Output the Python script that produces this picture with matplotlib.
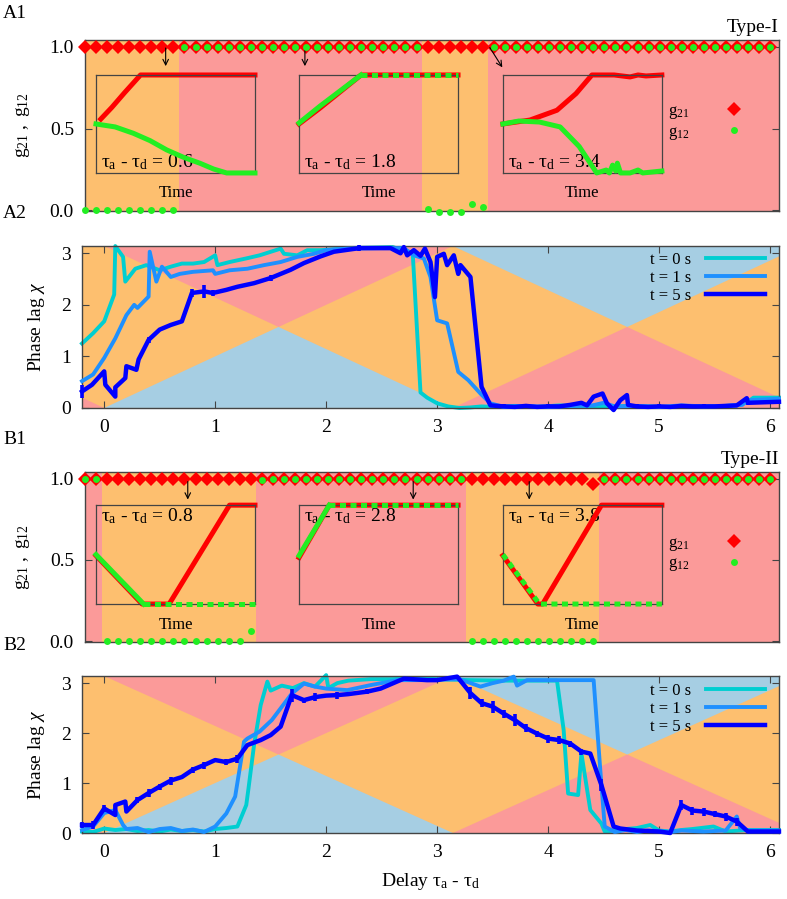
# Synchronisation type-I / type-II : couplages g21, g12 et retard de phase chi

import matplotlib
matplotlib.use("Agg")
import matplotlib.pyplot as plt
from numpy import pi

plt.rcParams["font.family"] = ["Liberation Serif", "DejaVu Serif"]
plt.rcParams["mathtext.fontset"] = "custom"
plt.rcParams["mathtext.rm"] = "Liberation Serif"
plt.rcParams["mathtext.it"] = "Liberation Serif:italic"
plt.rcParams["mathtext.bf"] = "Liberation Serif:bold"

# Couleurs
ORANGE = "#FDBF6F"
PINK   = "#FB9A99"
BLUE_BG = "#A6CEE3"
RED    = "#FF0000"
GREEN  = "#22EE22"
C_T0   = "#00CED1"
C_T1   = "#1E90FF"
C_T5   = "#0000FF"
EDGE   = "#444444"

# Grille des retards tau_a - tau_d (panneaux A1, B1)
DELAY = [-0.2, -0.1, 0.0, 0.1, 0.2, 0.3, 0.4, 0.5, 0.6, 0.7,
         0.8, 0.9, 1.0, 1.1, 1.2, 1.3, 1.4, 1.5, 1.6, 1.7,
         1.8, 1.9, 2.0, 2.1, 2.2, 2.3, 2.4, 2.5, 2.6, 2.7,
         2.8, 2.9, 3.0, 3.1, 3.2, 3.3, 3.4, 3.5, 3.6, 3.7,
         3.8, 3.9, 4.0, 4.1, 4.2, 4.3, 4.4, 4.5, 4.6, 4.7,
         4.8, 4.9, 5.0, 5.1, 5.2, 5.3, 5.4, 5.5, 5.6, 5.7,
         5.8, 5.9, 6.0]

# Type-I : poids finaux
G21_I = [1, 1, 1, 1, 1, 1, 1, 1, 1, 1,
         1, 1, 1, 1, 1, 1, 1, 1, 1, 1,
         1, 1, 1, 1, 1, 1, 1, 1, 1, 1,
         1, 1, 1, 1, 1, 1, 1, 1, 1, 1,
         1, 1, 1, 1, 1, 1, 1, 1, 1, 1,
         1, 1, 1, 1, 1, 1, 1, 1, 1, 1,
         1, 1, 1]
G12_I = [0, 0, 0, 0, 0, 0, 0, 0, 0, 1,
         1, 1, 1, 1, 1, 1, 1, 1, 1, 1,
         1, 1, 1, 1, 1, 1, 1, 1, 1, 1,
         1, 0.01, -0.01, -0.01, -0.01, 0.04, 0.02, 1, 1, 1,
         1, 1, 1, 1, 1, 1, 1, 1, 1, 1,
         1, 1, 1, 1, 1, 1, 1, 1, 1, 1,
         1, 1, 1]

# Type-II : poids finaux
G21_II = [1, 1, 1, 1, 1, 1, 1, 1, 1, 1,
          1, 1, 1, 1, 1, 1, 1, 1, 1, 1,
          1, 1, 1, 1, 1, 1, 1, 1, 1, 1,
          1, 1, 1, 1, 1, 1, 1, 1, 1, 1,
          1, 1, 1, 1, 1, 1, 0.97, 1, 1, 1,
          1, 1, 1, 1, 1, 1, 1, 1, 1, 1,
          1, 1, 1]
G12_II = [1, 1, 0, 0, 0, 0, 0, 0, 0, 0,
          0, 0, 0, 0, 0, 0.06, 0.99, 1, 1, 1,
          1, 1, 1, 1, 1, 1, 1, 1, 1, 1,
          1, 1, 1, 1, 1, 0, 0, 0, 0, 0,
          0, 0, 0, 0, 0, 0, 0, 1, 1, 1,
          1, 1, 1, 1, 1, 1, 1, 1, 1, 1,
          1, 1, 1]

# Retard de phase chi, Type-I (x, chi)
CHI_I_T0 = [(-0.2, 1.25), (-0.1, 1.45), (0.0, 1.68), (0.09, 2.2), (0.1, 3.14),
            (0.17, 2.93), (0.19, 2.45), (0.28, 2.7), (0.38, 2.77), (0.5, 2.67),
            (0.6, 2.74), (0.7, 2.8), (0.8, 2.8), (0.9, 2.83), (1.0, 2.96),
            (1.02, 2.77), (1.13, 2.83), (1.28, 2.9), (1.4, 2.96), (1.59, 3.09),
            (1.62, 2.99), (1.74, 2.96), (1.83, 3.06), (1.95, 3.06), (2.2, 3.1),
            (2.6, 3.12), (2.78, 3.0), (2.85, 0.3), (2.91, 0.2), (3.0, 0.09),
            (3.1, 0.03), (3.2, 0.0), (3.3, 0.01), (3.4, 0.03), (3.5, 0.02),
            (3.7, 0.04), (3.9, 0.02), (4.1, 0.05), (4.3, 0.03), (4.5, 0.02),
            (4.7, 0.04), (4.9, 0.03), (5.1, 0.02), (5.3, 0.04), (5.5, 0.03),
            (5.7, 0.05), (5.8, 0.12), (5.85, 0.2), (6.08, 0.2)]
CHI_I_T1 = [(-0.2, 0.52), (-0.1, 0.65), (0.0, 0.97), (0.1, 1.35), (0.2, 1.8),
            (0.27, 2.0), (0.3, 1.94), (0.4, 2.16), (0.41, 3.03), (0.47, 2.45),
            (0.52, 2.74), (0.6, 2.54), (0.68, 2.6), (0.8, 2.64), (0.98, 2.67),
            (1.0, 2.6), (1.13, 2.67), (1.29, 2.7), (1.44, 2.77), (1.59, 2.83),
            (1.74, 2.93), (1.89, 2.99), (2.0, 3.06), (2.19, 3.09), (2.5, 3.1),
            (2.7, 3.1), (2.79, 2.96), (2.88, 2.9), (2.94, 2.54), (3.0, 1.7),
            (3.09, 1.64), (3.19, 0.7), (3.28, 0.54), (3.39, 0.28), (3.48, 0.09),
            (3.6, 0.02), (3.8, 0.04), (4.0, 0.02), (4.2, 0.04), (4.4, 0.05),
            (4.5, 0.1), (4.6, 0.03), (4.8, 0.04), (5.0, 0.02), (5.2, 0.05),
            (5.4, 0.03), (5.6, 0.04), (5.75, 0.06), (5.8, 0.15), (6.08, 0.18)]
# (x, chi, barre d'erreur)
CHI_I_T5 = [(-0.2, 0.32, 0.12), (-0.11, 0.45, 0.0), (0.0, 0.71, 0.0), (0.01, 0.45, 0.0),
            (0.1, 0.22, 0.0), (0.1, 0.4, 0.0), (0.19, 0.58, 0.0), (0.2, 0.81, 0.0),
            (0.29, 0.74, 0.0), (0.31, 0.94, 0.0), (0.4, 1.32, 0.06), (0.5, 1.52, 0.0),
            (0.6, 1.61, 0.0), (0.7, 1.68, 0.0), (0.79, 2.23, 0.08), (0.9, 2.26, 0.13),
            (0.98, 2.23, 0.06), (1.1, 2.29, 0.0), (1.2, 2.35, 0.0), (1.35, 2.42, 0.0),
            (1.5, 2.52, 0.05), (1.68, 2.68, 0.0), (1.8, 2.81, 0.0), (1.95, 2.94, 0.0),
            (2.07, 3.03, 0.0), (2.3, 3.1, 0.06), (2.58, 3.1, 0.0), (2.67, 3.0, 0.0),
            (2.7, 3.12, 0.0), (2.73, 2.96, 0.0), (2.79, 3.06, 0.0), (2.85, 2.95, 0.0),
            (2.89, 3.09, 0.0), (2.94, 2.83, 0.0), (2.98, 2.15, 0.0), (3.0, 2.93, 0.0),
            (3.06, 2.99, 0.0), (3.09, 2.77, 0.0), (3.15, 2.96, 0.0), (3.19, 2.6, 0.0),
            (3.21, 2.77, 0.0), (3.3, 2.54, 0.0), (3.4, 0.41, 0.0), (3.48, 0.05, 0.0),
            (3.6, 0.03, 0.04), (3.7, 0.02, 0.0), (3.8, 0.04, 0.04), (3.9, 0.02, 0.0),
            (4.0, 0.03, 0.04), (4.1, 0.03, 0.0), (4.2, 0.06, 0.0), (4.3, 0.1, 0.0),
            (4.35, 0.05, 0.0), (4.41, 0.22, 0.0), (4.49, 0.28, 0.0), (4.53, 0.09, 0.0),
            (4.59, -0.04, 0.0), (4.65, 0.15, 0.0), (4.71, 0.25, 0.0), (4.72, 0.06, 0.0),
            (4.8, 0.03, 0.04), (4.9, 0.02, 0.0), (5.0, 0.03, 0.04), (5.1, 0.02, 0.0),
            (5.2, 0.04, 0.04), (5.3, 0.03, 0.0), (5.4, 0.03, 0.04), (5.5, 0.03, 0.0),
            (5.6, 0.04, 0.04), (5.7, 0.05, 0.0), (5.79, 0.19, 0.0), (5.8, 0.1, 0.04),
            (6.08, 0.12, 0.0)]

# Retard de phase chi, Type-II
CHI_II_T0 = [(-0.2, 0.03), (-0.1, 0.02), (0.0, 0.09), (0.1, 0.06), (0.2, 0.08),
             (0.3, 0.04), (0.4, 0.06), (0.5, 0.03), (0.6, 0.07), (0.7, 0.04),
             (0.8, 0.06), (0.9, 0.03), (1.0, 0.08), (1.1, 0.1), (1.2, 0.13),
             (1.28, 0.56), (1.3, 0.89), (1.35, 1.76), (1.41, 2.56), (1.47, 3.03),
             (1.5, 2.85), (1.6, 2.95), (1.7, 2.9), (1.8, 3.0), (1.9, 2.93),
             (2.0, 3.16), (2.02, 2.9), (2.1, 3.0), (2.2, 3.05), (2.4, 3.08),
             (2.6, 3.08), (2.8, 3.1), (3.0, 3.08), (3.3, 3.06), (3.6, 3.05),
             (4.08, 3.05), (4.14, 2.06), (4.18, 0.79), (4.27, 0.76), (4.3, 1.59),
             (4.38, 0.46), (4.48, 0.19), (4.51, 0.03), (4.6, 0.05), (4.7, 0.08),
             (4.8, 0.1), (4.92, 0.16), (5.0, 0.05), (5.1, 0.03), (5.2, 0.06),
             (5.3, 0.08), (5.49, 0.13), (5.6, 0.03), (5.8, 0.06), (6.08, 0.06)]
CHI_II_T1 = [(-0.2, 0.06), (-0.1, 0.13), (0.0, 0.4), (0.1, 0.46), (0.17, 0.16),
             (0.2, 0.08), (0.3, 0.1), (0.4, 0.02), (0.5, 0.08), (0.6, 0.1),
             (0.7, 0.04), (0.8, 0.07), (0.9, 0.02), (1.0, 0.13), (1.1, 0.39),
             (1.18, 0.73), (1.26, 1.83), (1.29, 1.89), (1.4, 2.03), (1.51, 2.26),
             (1.69, 2.79), (1.8, 2.99), (1.9, 2.93), (2.0, 2.89), (2.19, 2.86),
             (2.4, 2.96), (2.64, 3.06), (2.9, 3.06), (3.2, 3.08), (3.39, 2.93),
             (3.5, 3.0), (3.6, 3.05), (3.69, 3.13), (3.72, 2.95), (3.81, 3.06),
             (4.41, 3.06), (4.47, 1.26), (4.51, 0.13), (4.6, 0.02), (4.7, 0.06),
             (4.8, 0.02), (4.9, 0.05), (5.0, 0.04), (5.1, 0.02), (5.2, 0.05),
             (5.4, 0.03), (5.6, 0.05), (5.7, 0.33), (5.73, 0.1), (5.8, 0.05),
             (6.08, 0.05)]
CHI_II_T5 = [(-0.2, 0.16, 0.06), (-0.1, 0.16, 0.08), (0.0, 0.49, 0.07), (0.1, 0.36, 0.0),
             (0.1, 0.56, 0.0), (0.19, 0.63, 0.0), (0.2, 0.43, 0.0), (0.3, 0.66, 0.06),
             (0.4, 0.8, 0.08), (0.5, 0.93, 0.06), (0.6, 1.05, 0.08), (0.7, 1.12, 0.0),
             (0.8, 1.27, 0.06), (0.9, 1.36, 0.07), (1.0, 1.46, 0.0), (1.1, 1.42, 0.06),
             (1.2, 1.49, 0.08), (1.29, 1.76, 0.0), (1.41, 1.86, 0.0), (1.5, 1.96, 0.0),
             (1.59, 2.13, 0.0), (1.69, 2.76, 0.13), (1.8, 2.66, 0.05), (1.9, 2.72, 0.08),
             (2.0, 2.75, 0.0), (2.1, 2.76, 0.07), (2.2, 2.78, 0.0), (2.37, 2.83, 0.05),
             (2.49, 2.89, 0.0), (2.7, 3.09, 0.0), (2.91, 3.06, 0.0), (3.0, 3.06, 0.0),
             (3.18, 3.13, 0.0), (3.3, 2.8, 0.12), (3.4, 2.6, 0.08), (3.5, 2.53, 0.12),
             (3.6, 2.39, 0.08), (3.7, 2.26, 0.12), (3.8, 2.1, 0.08), (3.9, 1.99, 0.06),
             (4.0, 1.89, 0.08), (4.1, 1.86, 0.08), (4.2, 1.79, 0.06), (4.3, 1.63, 0.06),
             (4.38, 1.59, 0.0), (4.48, 0.96, 0.12), (4.59, 0.13, 0.0), (4.65, 0.09, 0.0),
             (4.8, 0.05, 0.0), (5.0, 0.03, 0.0), (5.1, 0.0, 0.0), (5.2, 0.56, 0.1),
             (5.3, 0.45, 0.08), (5.4, 0.43, 0.08), (5.5, 0.38, 0.06), (5.6, 0.33, 0.08),
             (5.7, 0.23, 0.08), (5.8, 0.03, 0.0), (6.08, 0.03, 0.0)]

# Encarts : evolution temporelle (temps normalise, poids normalise)
INS_I_06_RED   = [(0.03, 0.55), (0.1, 0.67), (0.18, 0.82), (0.28, 1.0), (1.0, 1.0)]
INS_I_06_GREEN = [(0.0, 0.5), (0.12, 0.47), (0.235, 0.405), (0.34, 0.33), (0.445, 0.235),
                  (0.55, 0.16), (0.654, 0.099), (0.74, 0.04), (0.822, 0.0), (1.0, 0.0)]
INS_I_18_RED   = [(0.0, 0.5), (0.13, 0.66), (0.26, 0.83), (0.39, 1.0), (1.0, 1.0)]
INS_I_18_GREEN = [(0.0, 0.51), (0.13, 0.68), (0.26, 0.84), (0.39, 1.0), (1.0, 1.0)]
INS_I_34_RED   = [(0.0, 0.5), (0.17, 0.54), (0.34, 0.64), (0.46, 0.81), (0.56, 1.0),
                  (0.7, 1.0), (0.8, 0.98), (0.85, 1.0), (0.9, 0.99), (1.0, 1.0)]
INS_I_34_GREEN = [(0.0, 0.5), (0.1, 0.53), (0.23, 0.52), (0.36, 0.47), (0.48, 0.27),
                  (0.59, 0.0), (0.65, 0.03), (0.67, 0.0), (0.69, 0.08), (0.71, 0.02),
                  (0.72, 0.1), (0.74, 0.0), (0.8, 0.0), (0.85, 0.03), (0.88, 0.0),
                  (1.0, 0.02)]
INS_II_08_RED   = [(0.0, 0.49), (0.29, 0.0), (0.46, 0.0), (0.84, 1.0), (1.0, 1.0)]
INS_II_08_GREEN = [(0.0, 0.5), (0.3, 0.0), (1.0, 0.0)]
INS_II_28_RED   = [(0.0, 0.47), (0.19, 1.0), (1.0, 1.0)]
INS_II_28_GREEN = [(0.0, 0.49), (0.19, 1.0), (1.0, 1.0)]
INS_II_38_RED   = [(0.0, 0.49), (0.22, 0.0), (0.25, 0.0), (0.62, 1.0), (1.0, 1.0)]
INS_II_38_GREEN = [(0.0, 0.5), (0.23, 0.0), (1.0, 0.0)]

# Fleches : (x depart, y depart, x arrivee, y arrivee)
ARROWS_I  = [(0.53, 1.01, 0.53, 0.865), (1.79, 1.01, 1.79, 0.865), (3.45, 1.01, 3.59, 0.86)]
ARROWS_II = [(0.73, 1.0, 0.73, 0.855), (2.77, 1.0, 2.77, 0.855), (3.82, 1.0, 3.82, 0.855)]

X_RANGE = (-0.2, 6.08)

SUB_A = r"$_\mathregular{a}$"
SUB_D = r"$_\mathregular{d}$"


# Style commun des cadres
def Style_frame(ax):
    for sp in ax.spines.values():
        sp.set_color(EDGE)
        sp.set_linewidth(1.0)
    ax.tick_params(direction="in", length=5, width=0.8, color=EDGE,
                   labelsize=14, pad=8, top=True, right=True)


# Fond orange la ou g12 ~ 0, rose sinon
def Shade_regimes(ax, delay, g12):
    ax.set_facecolor(PINK)
    start = None
    for d, g in zip(delay + [None], g12 + [1.0]):
        if d is not None and g < 0.5:
            if start is None:
                start = d
            last = d
        elif start is not None:
            ax.axvspan(start - 0.05, last + 0.05, color=ORANGE, lw=0, zorder=0)
            start = None


# Panneau des poids g21, g12
def Plot_weights(ax, g21, g12, arrows, type_label):
    Shade_regimes(ax, DELAY, g12)
    h1, = ax.plot(DELAY, g21, "D", color=RED, ms=7, mew=0, clip_on=False, zorder=3)
    h2, = ax.plot(DELAY, g12, "o", color=GREEN, ms=5, mew=0, clip_on=False, zorder=4)
    for x0, y0, x1, y1 in arrows:
        ax.annotate("", xy=(x1, y1), xytext=(x0, y0),
                    arrowprops=dict(arrowstyle="->", color="black", lw=0.8))
    ax.set_xlim(*X_RANGE)
    ax.set_ylim(-0.005, 1.042)
    ax.set_xticks([])
    ax.set_yticks([0.0, 0.5, 1.0])
    ax.set_yticklabels(["0.0", "0.5", "1.0"])
    Style_frame(ax)
    ax.tick_params(top=False, bottom=False)
    ax.set_ylabel(r"$\mathregular{g_{21}\ ,\ g_{12}}$", fontsize=14)
    ax.yaxis.set_label_coords(-0.076, 0.5)
    ax.text(1.0, 1.025, type_label, transform=ax.transAxes, ha="right", va="bottom", fontsize=14)
    ax.legend([h1, h2], [r"$\mathregular{g_{21}}$", r"$\mathregular{g_{12}}$"],
              loc="upper left", bbox_to_anchor=(0.84, 0.63), frameon=False,
              markerfirst=False, fontsize=12, handletextpad=1.2, handlelength=3.0,
              borderpad=0, borderaxespad=0, labelspacing=0.15)


# Fond en triangles (droites chi = +-x + k*pi)
def Phase_background(ax):
    ax.set_facecolor(ORANGE)
    pink_tri = [[(0, pi), (pi / 2, pi / 2), (pi, pi)],
                [(pi, 0), (1.5 * pi, pi / 2), (2 * pi, 0)],
                [(-pi, 0), (-pi / 2, pi / 2), (0, 0)]]
    blue_tri = [[(0, 0), (pi / 2, pi / 2), (pi, 0)],
                [(pi, pi), (1.5 * pi, pi / 2), (2 * pi, pi)]]
    for tri in pink_tri:
        xs, ys = zip(*tri)
        ax.fill(xs, ys, color=PINK, lw=0, zorder=0)
    for tri in blue_tri:
        xs, ys = zip(*tri)
        ax.fill(xs, ys, color=BLUE_BG, lw=0, zorder=0)


# Panneau du retard de phase
def Plot_phase(ax, t0, t1, t5, legend_top):
    Phase_background(ax)
    x0, y0 = zip(*t0)
    x1, y1 = zip(*t1)
    x5, y5, e5 = zip(*t5)
    ax.plot(x0, y0, color=C_T0, lw=2.8, clip_on=False, zorder=2, label="t = 0 s")
    ax.plot(x1, y1, color=C_T1, lw=2.8, clip_on=False, zorder=3, label="t = 1 s")
    ax.plot(x5, y5, color=C_T5, lw=3.2, clip_on=False, zorder=4, label="t = 5 s")
    ax.errorbar(x5, y5, yerr=e5, fmt="none", ecolor=C_T5, elinewidth=2.6,
                capsize=0, zorder=4, clip_on=False)
    ax.set_xlim(*X_RANGE)
    ax.set_ylim(0, pi)
    ax.set_xticks([0, 1, 2, 3, 4, 5, 6])
    ax.set_yticks([0, 1, 2, 3])
    Style_frame(ax)
    ax.set_ylabel(r"Phase lag $\chi$", fontsize=14)
    ax.yaxis.set_label_coords(-0.05, 0.5)
    ax.legend(loc="upper left", bbox_to_anchor=(0.815, legend_top), frameon=False,
              markerfirst=False, fontsize=12, handletextpad=0.9, handlelength=3.5,
              borderpad=0, borderaxespad=0, labelspacing=0.12)


# Encart temporel
def Draw_inset(fig, rect, red, green, dash_from, label, label_y):
    ins = fig.add_axes(rect)
    ins.patch.set_visible(False)
    rt, rv = zip(*red)
    ins.plot(rt, rv, color=RED, lw=3.6, clip_on=False, zorder=2)
    solid = [p for p in green if p[0] <= dash_from]
    dashed = [p for p in green if p[0] >= dash_from]
    if len(solid) > 1:
        gt, gv = zip(*solid)
        ins.plot(gt, gv, color=GREEN, lw=3.6, clip_on=False, zorder=3)
    if len(dashed) > 1:
        gt, gv = zip(*dashed)
        ins.plot(gt, gv, color=GREEN, lw=3.6, ls=(0, (1.2, 0.9)), clip_on=False, zorder=3)
    ins.set_xlim(0, 1)
    ins.set_ylim(0, 1)
    ins.set_xticks([])
    ins.set_yticks([])
    for sp in ins.spines.values():
        sp.set_color(EDGE)
        sp.set_linewidth(0.9)
    ins.set_xlabel("Time", fontsize=12, labelpad=9)
    ins.text(0.03, label_y, label, transform=ins.transAxes, fontsize=14, zorder=1)


if __name__ == "__main__":

    fig = plt.figure(figsize=(7.87, 8.99), dpi=100)

    ax_a1 = fig.add_axes([0.108, 0.7653, 0.8818, 0.1902])
    ax_a2 = fig.add_axes([0.1042, 0.5462, 0.8856, 0.1802])
    ax_b1 = fig.add_axes([0.108, 0.2859, 0.8818, 0.1891])
    ax_b2 = fig.add_axes([0.1042, 0.0734, 0.8856, 0.1746])

    Plot_weights(ax_a1, G21_I, G12_I, ARROWS_I, "Type-I")
    Plot_weights(ax_b1, G21_II, G12_II, ARROWS_II, "Type-II")
    Plot_phase(ax_a2, CHI_I_T0, CHI_I_T1, CHI_I_T5, 0.965)
    Plot_phase(ax_b2, CHI_II_T0, CHI_II_T1, CHI_II_T5, 0.955)
    ax_b2.set_xlabel("Delay τ" + SUB_A + " - τ" + SUB_D, fontsize=14)
    ax_b2.xaxis.set_label_coords(0.5, -0.24)

    # Encarts Type-I (texte en bas) et Type-II (texte en haut)
    lefts = [0.122, 0.380, 0.639]
    tau = "τ" + SUB_A + " - τ" + SUB_D + " = "
    Draw_inset(fig, [lefts[0], 0.8076, 0.202, 0.109], INS_I_06_RED, INS_I_06_GREEN, 1.0, tau + "0.6", 0.06)
    Draw_inset(fig, [lefts[1], 0.8076, 0.202, 0.109], INS_I_18_RED, INS_I_18_GREEN, 0.39, tau + "1.8", 0.06)
    Draw_inset(fig, [lefts[2], 0.8076, 0.202, 0.109], INS_I_34_RED, INS_I_34_GREEN, 1.0, tau + "3.4", 0.06)
    Draw_inset(fig, [lefts[0], 0.3281, 0.202, 0.110], INS_II_08_RED, INS_II_08_GREEN, 0.3, tau + "0.8", 0.84)
    Draw_inset(fig, [lefts[1], 0.3281, 0.202, 0.110], INS_II_28_RED, INS_II_28_GREEN, 0.19, tau + "2.8", 0.84)
    Draw_inset(fig, [lefts[2], 0.3281, 0.202, 0.110], INS_II_38_RED, INS_II_38_GREEN, 0.0, tau + "3.8", 0.84)

    for lab, ypix in [("A1", 14), ("A2", 213), ("B1", 440), ("B2", 645)]:
        fig.text(0.004, 1 - ypix / 899, lab, fontsize=14, va="center", ha="left")

    fig.savefig("out.png", dpi=100)
